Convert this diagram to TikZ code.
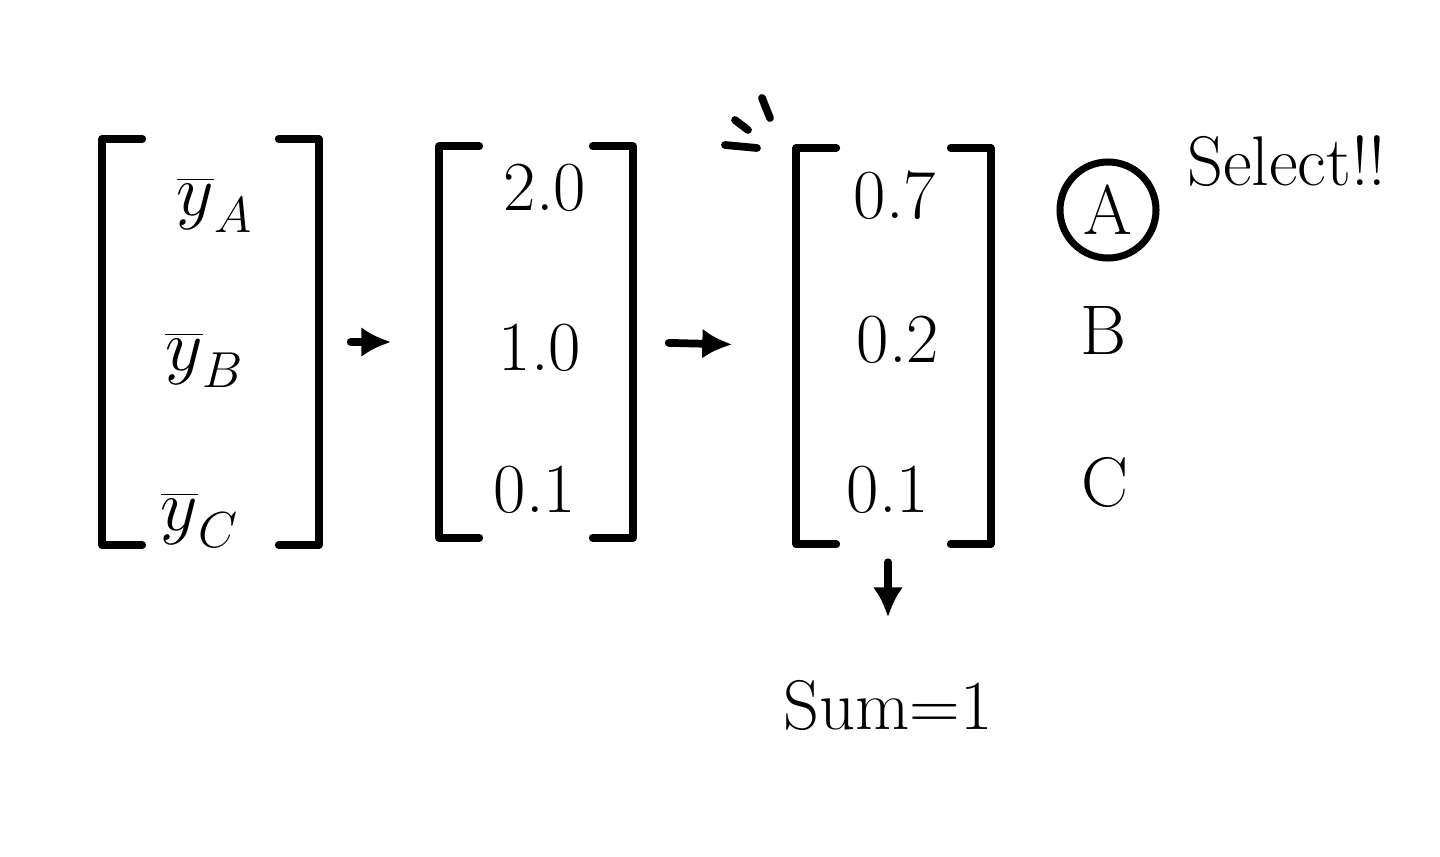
\documentclass[tikz,border=0pt]{standalone}
\usetikzlibrary{arrows.meta,positioning}

\begin{document}
\begin{tikzpicture}[
  font=\fontsize{20}{24}\selectfont,
  vec/.style={inner sep=0pt},
  brk/.style={line width=2.2pt,line cap=round,line join=round},
  flow/.style={-{Latex[length=3mm,width=3mm]},line width=2.2pt,line cap=round},
  pick/.style={draw,circle,line width=2pt,minimum size=9.6mm,inner sep=0pt}
]
\useasboundingbox (0,0) rectangle (14.4,8.56);

% vectors
\node[vec,minimum width=21.5mm,minimum height=40.5mm] (v1) at (2.105,5.14) {};
\node[vec,minimum width=19.2mm,minimum height=39mm] (v2) at (5.36,5.14) {};
\node[vec,minimum width=19.3mm,minimum height=39.5mm] (v3) at (8.935,5.10) {};
\foreach \v in {v1,v2,v3}{
  \draw[brk] ([xshift=4mm]\v.north west) -- (\v.north west) -- (\v.south west) -- ([xshift=4mm]\v.south west);
  \draw[brk] ([xshift=-4mm]\v.north east) -- (\v.north east) -- (\v.south east) -- ([xshift=-4mm]\v.south east);
}

\node (ya) at (2.15,6.51) {$\overline{y}_A$};
\node (yb) at (2.05,4.96) {$\overline{y}_B$};
\node (yc) at (2.0,3.36) {$\overline{y}_C$};

\node (s1) at (5.45,6.68) {2.0};
\node (s2) at (5.40,5.08) {1.0};
\node (s3) at (5.35,3.66) {0.1};

\node (p1) at (8.95,6.61) {0.7};
\node (p2) at (8.98,5.16) {0.2};
\node (p3) at (8.88,3.66) {0.1};

\draw[flow,shorten <=3.2mm,shorten >=4.8mm] (v1.east) -- (v2.west);
\draw[flow,shorten <=3.6mm,shorten >=6.4mm] (v2.east) -- (v3.west);

% sparkle
\draw[brk] (7.25,7.11) -- (7.57,7.08);
\draw[brk] (7.35,7.36) -- (7.48,7.26);
\draw[brk] (7.62,7.58) -- (7.70,7.38);

% classes
\node[pick] (ca) at (11.08,6.46) {A};
\node (cb) at (11.03,5.26) {B};
\node (cc) at (11.05,3.74) {C};
\node[anchor=west] (sel) at (11.75,6.95) {Select!!};

\node (sum) at (8.88,1.51) {Sum=1};
\draw[flow,shorten <=3.6mm,shorten >=5mm] (p3.south) -- (sum.north);
\end{tikzpicture}
\end{document}
